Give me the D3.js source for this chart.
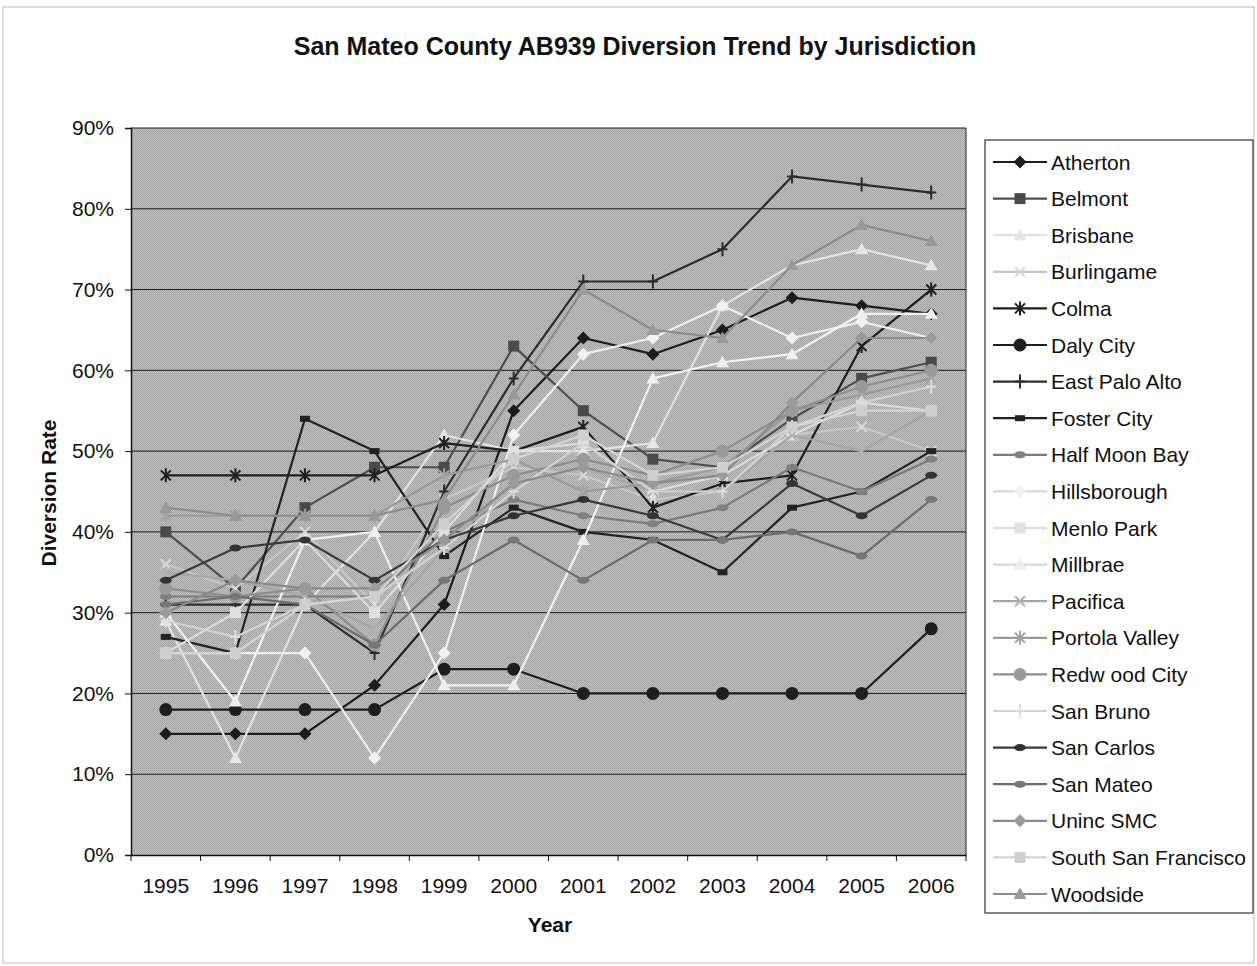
<!DOCTYPE html>
<html>
<head>
<meta charset="utf-8">
<script src="https://cdn.jsdelivr.net/npm/d3@7"></script>
<style>
  body { margin: 0; background: #fff; }
  svg text { font-family: "Liberation Sans", Arial, sans-serif; fill: #111; }
</style>
</head>
<body>
<svg id="chart" width="1257" height="966"></svg>
<script>
"use strict";

// ---- data (diversion rate in %) ----
const years = [1995, 1996, 1997, 1998, 1999, 2000, 2001, 2002, 2003, 2004, 2005, 2006];
const yTicks = [0, 10, 20, 30, 40, 50, 60, 70, 80, 90];

const atherton      = [15, 15, 15, 21, 31, 55, 64, 62, 65, 69, 68, 67];
const belmont       = [40, 33, 43, 48, 48, 63, 55, 49, 48, 54, 59, 61];
const brisbane      = [29, 12, 31, 40, 52, 50, 50, 51, 68, 73, 75, 73];
const burlingame    = [36, 33, 40, 31, 44, 48, 47, 44, 45, 52, 53, 50];
const colma         = [47, 47, 47, 47, 51, 50, 53, 43, 46, 47, 63, 70];
const dalyCity      = [18, 18, 18, 18, 23, 23, 20, 20, 20, 20, 20, 28];
const eastPaloAlto  = [31, 31, 31, 25, 45, 59, 71, 71, 75, 84, 83, 82];
const fosterCity    = [27, 25, 54, 50, 37, 43, 40, 39, 35, 43, 45, 50];
const halfMoonBay   = [32, 32, 32, 32, 40, 44, 42, 41, 43, 48, 45, 49];
const hillsborough  = [25, 25, 25, 12, 25, 52, 62, 64, 68, 64, 66, 64];
const menloPark     = [25, 30, 39, 30, 40, 50, 51, 45, 47, 52, 56, 55];
const millbrae      = [30, 19, 39, 40, 21, 21, 39, 59, 61, 62, 67, 67];
const pacifica      = [35, 34, 32, 28, 38, 46, 48, 45, 45, 52, 50, 55];
const portolaValley = [42, 42, 42, 42, 47, 49, 45, 46, 48, 55, 57, 59];
const redwoodCity   = [33, 32, 33, 26, 43, 47, 49, 47, 50, 55, 58, 60];
const sanBruno      = [29, 27, 31, 32, 38, 45, 51, 45, 45, 53, 56, 58];
const sanCarlos     = [34, 38, 39, 34, 39, 42, 44, 42, 39, 46, 42, 47];
const sanMateo      = [31, 32, 31, 26, 34, 39, 34, 39, 39, 40, 37, 44];
const unincSMC      = [30, 34, 33, 33, 39, 46, 48, 46, 47, 56, 64, 64];
const southSF       = [25, 25, 31, 32, 41, 49, 52, 47, 48, 53, 55, 55];
const woodside      = [43, 42, 42, 42, 44, 57, 70, 65, 64, 73, 78, 76];

const series = [
  { name: "Atherton", values: atherton },
  { name: "Belmont", values: belmont },
  { name: "Brisbane", values: brisbane },
  { name: "Burlingame", values: burlingame },
  { name: "Colma", values: colma },
  { name: "Daly City", values: dalyCity },
  { name: "East Palo Alto", values: eastPaloAlto },
  { name: "Foster City", values: fosterCity },
  { name: "Half Moon Bay", values: halfMoonBay },
  { name: "Hillsborough", values: hillsborough },
  { name: "Menlo Park", values: menloPark },
  { name: "Millbrae", values: millbrae },
  { name: "Pacifica", values: pacifica },
  { name: "Portola Valley", values: portolaValley },
  { name: "Redw ood City", values: redwoodCity },
  { name: "San Bruno", values: sanBruno },
  { name: "San Carlos", values: sanCarlos },
  { name: "San Mateo", values: sanMateo },
  { name: "Uninc SMC", values: unincSMC },
  { name: "South San Francisco", values: southSF },
  { name: "Woodside", values: woodside }
];

// ---- styles, one per series in the same order ----
const styles = [
  { line: "#1c1c1c", mark: "#1c1c1c", shape: "diamond" },
  { line: "#4e4e4e", mark: "#4a4a4a", shape: "square" },
  { line: "#e2e2e2", mark: "#e6e6e6", shape: "triangle" },
  { line: "#c6c6c6", mark: "#dadada", shape: "x" },
  { line: "#1e1e1e", mark: "#1e1e1e", shape: "asterisk" },
  { line: "#1e1e1e", mark: "#1e1e1e", shape: "circle" },
  { line: "#2c2c2c", mark: "#2c2c2c", shape: "plus" },
  { line: "#222222", mark: "#222222", shape: "rect" },
  { line: "#7a7a7a", mark: "#808080", shape: "oval" },
  { line: "#efefef", mark: "#f2f2f2", shape: "diamond" },
  { line: "#dcdcdc", mark: "#e0e0e0", shape: "square" },
  { line: "#f3f3f3", mark: "#efefef", shape: "triangle" },
  { line: "#a6a6a6", mark: "#b0b0b0", shape: "x" },
  { line: "#9a9a9a", mark: "#a4a4a4", shape: "asterisk" },
  { line: "#8e8e8e", mark: "#9a9a9a", shape: "circle" },
  { line: "#d2d2d2", mark: "#dedede", shape: "plus" },
  { line: "#3a3a3a", mark: "#333333", shape: "oval" },
  { line: "#6c6c6c", mark: "#777777", shape: "oval" },
  { line: "#8a8a8a", mark: "#9a9a9a", shape: "diamond" },
  { line: "#d4d4d4", mark: "#cfcfcf", shape: "square" },
  { line: "#8c8c8c", mark: "#999999", shape: "triangle" }
];

const strokeShapes = new Set(["x", "asterisk", "plus"]);

const markerPath = (shape) => {
  switch (shape) {
    case "diamond": return "M0,-6.5L6.5,0L0,6.5L-6.5,0Z";
    case "square": return "M-5.5,-5.5H5.5V5.5H-5.5Z";
    case "triangle": return "M0,-6.5L6.5,5L-6.5,5Z";
    case "x": return "M-5,-5L5,5M5,-5L-5,5";
    case "asterisk": return "M-5,-5L5,5M5,-5L-5,5M0,-7V7";
    case "plus": return "M0,-7V7M-5,0H5";
    case "circle": return "M-6.5,0A6.5,6.5 0 1,0 6.5,0A6.5,6.5 0 1,0 -6.5,0Z";
    case "rect": return "M-5,-3H5V3H-5Z";
    case "oval": return "M-6,0A6,3.5 0 1,0 6,0A6,3.5 0 1,0 -6,0Z";
  }
};

const drawMarker = (sel, style) => {
  const p = sel.append("path").attr("d", markerPath(style.shape));
  if (strokeShapes.has(style.shape)) {
    p.attr("fill", "none").attr("stroke", style.mark).attr("stroke-width", 2);
  } else {
    p.attr("fill", style.mark).attr("stroke", "none");
  }
  return p;
};

// ---- layout ----
const plot = { left: 131, right: 966, top: 128, bottom: 855 };
const svg = d3.select("#chart");

// thin outer frame of the chart
svg.append("rect")
  .attr("x", 3).attr("y", 7).attr("width", 1251).attr("height", 956)
  .attr("fill", "#fff").attr("stroke", "#bbb").attr("stroke-width", 1);

// halftone-ish fill of the plot area
const defs = svg.append("defs");
const pat = defs.append("pattern")
  .attr("id", "dots").attr("width", 2).attr("height", 2)
  .attr("patternUnits", "userSpaceOnUse");
pat.append("rect").attr("width", 2).attr("height", 2).attr("fill", "#bfbfbf");
pat.append("rect").attr("width", 1).attr("height", 1).attr("fill", "#a3a3a3");
pat.append("rect").attr("x", 1).attr("y", 1).attr("width", 1).attr("height", 1).attr("fill", "#a8a8a8");

const x = d3.scaleBand().domain(years).range([plot.left, plot.right]);
const y = d3.scaleLinear().domain([0, 90]).range([plot.bottom, plot.top]);
const cx = d => x(d) + x.bandwidth() / 2;

svg.append("rect")
  .attr("x", plot.left).attr("y", plot.top)
  .attr("width", plot.right - plot.left).attr("height", plot.bottom - plot.top)
  .attr("fill", "url(#dots)");

// gridlines
svg.append("g")
  .selectAll("line")
  .data(yTicks.filter(t => t > 0))
  .join("line")
  .attr("x1", plot.left).attr("x2", plot.right)
  .attr("y1", d => y(d)).attr("y2", d => y(d))
  .attr("stroke", "#1a1a1a").attr("stroke-width", 1);

// right border of plot
svg.append("line")
  .attr("x1", plot.right).attr("x2", plot.right)
  .attr("y1", plot.top).attr("y2", plot.bottom)
  .attr("stroke", "#444").attr("stroke-width", 1.2);

// ---- series ----
const line = d3.line()
  .x((d, i) => cx(years[i]))
  .y(d => y(d));

const layer = svg.append("g");
series.forEach((s, k) => {
  const st = styles[k];
  const g = layer.append("g");
  g.append("path")
    .attr("d", line(s.values))
    .attr("fill", "none")
    .attr("stroke", st.line)
    .attr("stroke-width", 2.2)
    .attr("stroke-linejoin", "round");
  s.values.forEach((v, i) => {
    const m = g.append("g").attr("transform", `translate(${cx(years[i])},${y(v)})`);
    drawMarker(m, st);
  });
});

// ---- axes ----
const yAxis = d3.axisLeft(y)
  .tickValues(yTicks)
  .tickFormat(d => d + "%")
  .tickSize(6)
  .tickPadding(11);
const gy = svg.append("g").attr("transform", `translate(${plot.left},0)`).call(yAxis);
gy.select(".domain").attr("stroke", "#111").attr("stroke-width", 1.5);
gy.selectAll(".tick line").attr("stroke", "#111");
gy.selectAll("text").style("font-size", "21px").attr("fill", "#111");

const xAxis = d3.axisBottom(x).tickSize(0).tickPadding(23);
const gx = svg.append("g").attr("transform", `translate(0,${plot.bottom})`).call(xAxis);
gx.select(".domain").attr("stroke", "#111").attr("stroke-width", 1.5);
gx.selectAll("text").style("font-size", "21px").attr("fill", "#111");

// category boundary ticks
gx.append("g")
  .selectAll("line")
  .data(d3.range(years.length + 1))
  .join("line")
  .attr("x1", i => plot.left + i * x.step())
  .attr("x2", i => plot.left + i * x.step())
  .attr("y1", 0).attr("y2", 6)
  .attr("stroke", "#111");

// ---- titles ----
svg.append("text")
  .attr("x", 635).attr("y", 55)
  .attr("text-anchor", "middle")
  .style("font-size", "25px").style("font-weight", "bold")
  .text("San Mateo County AB939 Diversion Trend by Jurisdiction");

svg.append("text")
  .attr("transform", "translate(56,493) rotate(-90)")
  .attr("text-anchor", "middle")
  .style("font-size", "21px").style("font-weight", "bold")
  .text("Diversion Rate");

svg.append("text")
  .attr("x", 550).attr("y", 932)
  .attr("text-anchor", "middle")
  .style("font-size", "21px").style("font-weight", "bold")
  .text("Year");

// ---- legend ----
const legend = svg.append("g");
legend.append("rect")
  .attr("x", 985).attr("y", 140).attr("width", 268).attr("height", 773)
  .attr("fill", "#fff").attr("stroke", "#333").attr("stroke-width", 1.2);

const item = legend.selectAll("g.item")
  .data(series)
  .join("g")
  .attr("class", "item")
  .attr("transform", (d, i) => `translate(0,${162 + i * 36.6})`);

item.append("line")
  .attr("x1", 993).attr("x2", 1047)
  .attr("stroke", (d, i) => styles[i].line === "#f3f3f3" || styles[i].line === "#efefef" ? "#d8d8d8" : styles[i].line)
  .attr("stroke-width", 2.2);

item.each(function (d, i) {
  const m = d3.select(this).append("g").attr("transform", "translate(1020,0)");
  drawMarker(m, styles[i]);
});

item.append("text")
  .attr("x", 1051).attr("dy", "0.36em")
  .style("font-size", "21px")
  .text(d => d.name);
</script>
</body>
</html>
